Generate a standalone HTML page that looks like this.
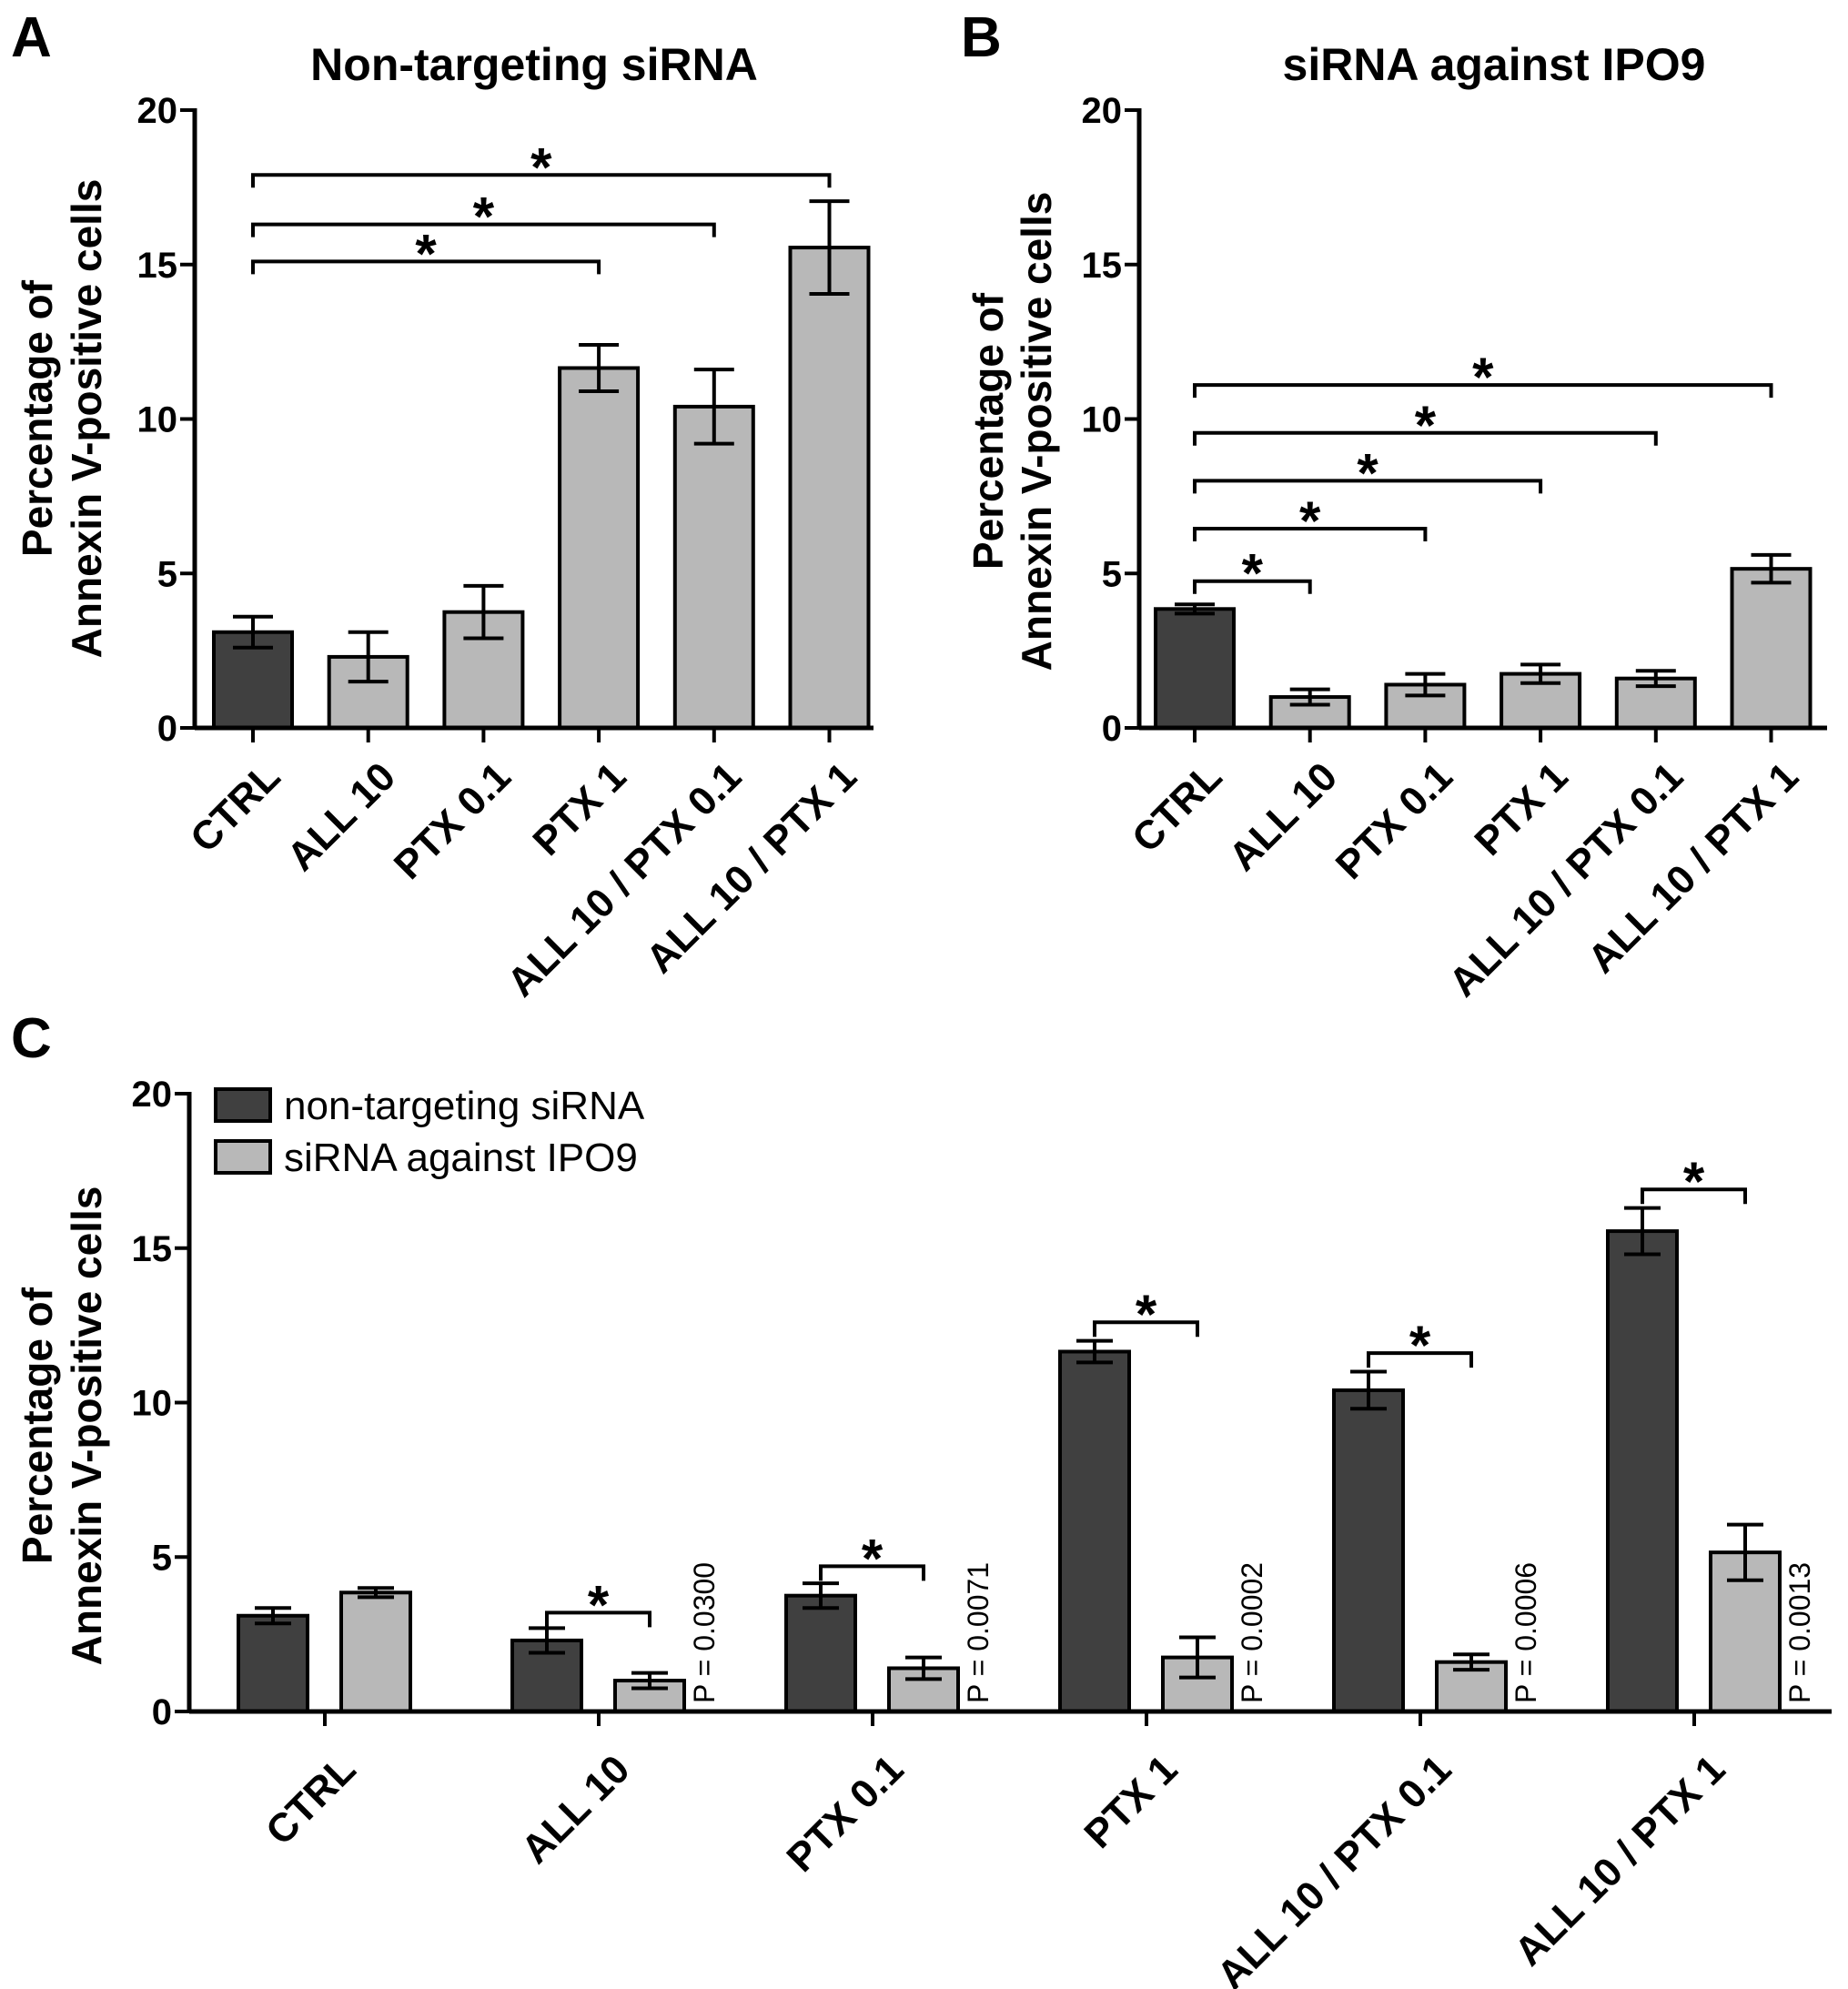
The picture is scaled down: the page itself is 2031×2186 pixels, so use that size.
<!DOCTYPE html>
<html><head><meta charset="utf-8"><title>Annexin V bar charts</title>
<style>
html,body{margin:0;padding:0;background:#fff;}
svg{display:block;font-family:"Liberation Sans",Arial,sans-serif;}
</style></head>
<body>
<svg id="fig" xmlns="http://www.w3.org/2000/svg" width="2031" height="2186" viewBox="0 0 2031 2186">
<rect x="0" y="0" width="2031" height="2186" fill="#fff"/>
<text x="12" y="62" font-size="62" font-weight="bold">A</text>
<text x="1056" y="62" font-size="62" font-weight="bold">B</text>
<text x="12" y="1162" font-size="62" font-weight="bold">C</text>
<text x="587" y="88" font-size="50" font-weight="bold" text-anchor="middle">Non-targeting siRNA</text>
<text x="1642" y="88" font-size="50" font-weight="bold" text-anchor="middle">siRNA against IPO9</text>
<g font-size="46" font-weight="bold" text-anchor="middle">
<text transform="translate(57,460) rotate(-90)">Percentage of</text>
<text transform="translate(111,460) rotate(-90)">Annexin V-positive cells</text>
</g>
<g font-size="46" font-weight="bold" text-anchor="middle">
<text transform="translate(1102,474) rotate(-90)">Percentage of</text>
<text transform="translate(1155,474) rotate(-90)">Annexin V-positive cells</text>
</g>
<g font-size="46" font-weight="bold" text-anchor="middle">
<text transform="translate(57,1567) rotate(-90)">Percentage of</text>
<text transform="translate(111,1567) rotate(-90)">Annexin V-positive cells</text>
</g>
<g>
<rect x="237" y="1197" width="60" height="35" fill="#404040" stroke="#000" stroke-width="4"/>
<text x="312" y="1230" font-size="44">non-targeting siRNA</text>
<rect x="237" y="1254" width="60" height="35" fill="#b8b8b8" stroke="#000" stroke-width="4"/>
<text x="312" y="1287" font-size="44">siRNA against IPO9</text>
</g>
</svg>
<script>
// ---- data ----
const categories = ["CTRL", "ALL 10", "PTX 0.1", "PTX 1", "ALL 10 / PTX 0.1", "ALL 10 / PTX 1"];
const aValues = [3.1, 2.3, 3.75, 11.65, 10.4, 15.55];
const aErrors = [0.5, 0.8, 0.85, 0.75, 1.2, 1.5];
const bValues = [3.85, 1.0, 1.4, 1.75, 1.6, 5.15];
const bErrors = [0.15, 0.25, 0.35, 0.3, 0.25, 0.45];
const cDarkValues = [3.1, 2.3, 3.75, 11.65, 10.4, 15.55];
const cDarkErrors = [0.25, 0.4, 0.4, 0.35, 0.6, 0.75];
const cLightValues = [3.85, 1.0, 1.4, 1.75, 1.6, 5.15];
const cLightErrors = [0.15, 0.25, 0.35, 0.65, 0.25, 0.9];
const yTicks = [0, 5, 10, 15, 20];
const aBracketTargets = [3, 4, 5];
const aBracketLevels = [15.1, 16.3, 17.9];
const bBracketTargets = [1, 2, 3, 4, 5];
const bBracketLevels = [4.75, 6.45, 8.0, 9.55, 11.1];
const cBracketLevels = [null, 3.2, 4.7, 12.6, 11.6, 16.9];
const pLabels = [null, "P = 0.0300", "P = 0.0071", "P = 0.0002", "P = 0.0006", "P = 0.0013"];

const NS = "http://www.w3.org/2000/svg";
const svg = document.getElementById("fig");
function mk(tag, attrs, parent) {
  const e = document.createElementNS(NS, tag);
  for (const k in attrs) e.setAttribute(k, attrs[k]);
  (parent || svg).appendChild(e);
  return e;
}
function makeY(y0, y20) { return v => y0 + (y20 - y0) * v / 20; }

function axes(g, ax, axEnd, y, xs, labelDX, labelDY) {
  const ln = mk("line", {x1: ax, y1: y(0), x2: axEnd, y2: y(0), stroke: "#000", "stroke-width": 5}, g);
  
  
  const yl = mk("line", {x1: ax, y1: y(20) - 2, x2: ax, y2: y(0) + 2, stroke: "#000", "stroke-width": 5}, g);
  
  
  yTicks.forEach(t => {
    const tk = mk("line", {x1: ax - 16, y1: y(t), x2: ax, y2: y(t), stroke: "#000", "stroke-width": 4}, g);
    
    
    const tl = mk("text", {x: ax - 19, y: y(t) + 14, "font-size": 40, "font-weight": "bold", "text-anchor": "end"}, g);
    tl.textContent = t;
    
    
  });
  xs.forEach((cx, i) => {
    const tk = mk("line", {x1: cx, y1: y(0), x2: cx, y2: y(0) + 16, stroke: "#000", "stroke-width": 4}, g);
    
    
    const tl = mk("text", {transform: `translate(${cx + labelDX},${y(0) + labelDY}) rotate(-45)`, "font-size": 44, "font-weight": "bold", "text-anchor": "end", dy: "0.72em"}, g);
    tl.textContent = categories[i];
    
    
  });
}
function bar(g, cx, w, v, err, y, fill, capW) {
  const r = mk("rect", {x: cx - w / 2, y: y(v), width: w, height: y(0) - y(v), fill: fill, stroke: "#000", "stroke-width": 4}, g);
  
  
  const eb = mk("path", {d: `M${cx},${y(v - err)}V${y(v + err)}M${cx - capW / 2},${y(v + err)}H${cx + capW / 2}M${cx - capW / 2},${y(v - err)}H${cx + capW / 2}`, stroke: "#000", "stroke-width": 4, fill: "none"}, g);
  
  
}
function bracket(g, x1, x2, yy, drop) {
  const p = mk("path", {d: `M${x1},${yy + drop}V${yy}H${x2}V${yy + drop}`, stroke: "#000", "stroke-width": 4, fill: "none"}, g);
  
  
  const s = mk("text", {x: (x1 + x2) / 2, y: yy + 12, "font-size": 60, "font-weight": "bold", "text-anchor": "middle"}, g);
  s.textContent = "*";
  
  
}

// ---- Panel A ----
{
  const g = mk("g", {});
  
  
  const y = makeY(800, 121);
  const xA = i => 278 + i * 126.7;
  const xs = categories.map((c, i) => xA(i));
  aValues.forEach((v, i) => bar(g, xA(i), 86, v, aErrors[i], y, i === 0 ? "#404040" : "#b8b8b8", 44));
  axes(g, 214, 960, y, xs, 10, 34);
  aBracketTargets.forEach((t, k) => bracket(g, xA(0), xA(t), y(aBracketLevels[k]), 14));
}
// ---- Panel B ----
{
  const g = mk("g", {});
  
  
  const y = makeY(800, 121);
  const xB = i => 1313 + i * 126.7;
  const xs = categories.map((c, i) => xB(i));
  bValues.forEach((v, i) => bar(g, xB(i), 86, v, bErrors[i], y, i === 0 ? "#404040" : "#b8b8b8", 44));
  axes(g, 1252, 2008, y, xs, 10, 34);
  bBracketTargets.forEach((t, k) => bracket(g, xB(0), xB(t), y(bBracketLevels[k]), 14));
}
// ---- Panel C ----
{
  const g = mk("g", {});
  
  
  const y = makeY(1881, 1202);
  const xC = i => 357 + i * 301;
  const xs = categories.map((c, i) => xC(i));
  cDarkValues.forEach((v, i) => bar(g, xC(i) - 57, 76, v, cDarkErrors[i], y, "#404040", 40));
  cLightValues.forEach((v, i) => bar(g, xC(i) + 56, 76, v, cLightErrors[i], y, "#b8b8b8", 40));
  axes(g, 208, 2013, y, xs, 14, 44);
  cBracketLevels.forEach((lv, i) => {
    if (lv === null) return;
    bracket(g, xC(i) - 57, xC(i) + 56, y(lv), 16);
  });
  pLabels.forEach((p, i) => {
    if (p === null) return;
    const t = mk("text", {transform: `translate(${xC(i) + 56 + 38 + 33},${y(0) - 9}) rotate(-90)`, "font-size": 32, "text-anchor": "start"}, g);
    t.textContent = p;
    
    
  });
}
</script>
</body></html>
